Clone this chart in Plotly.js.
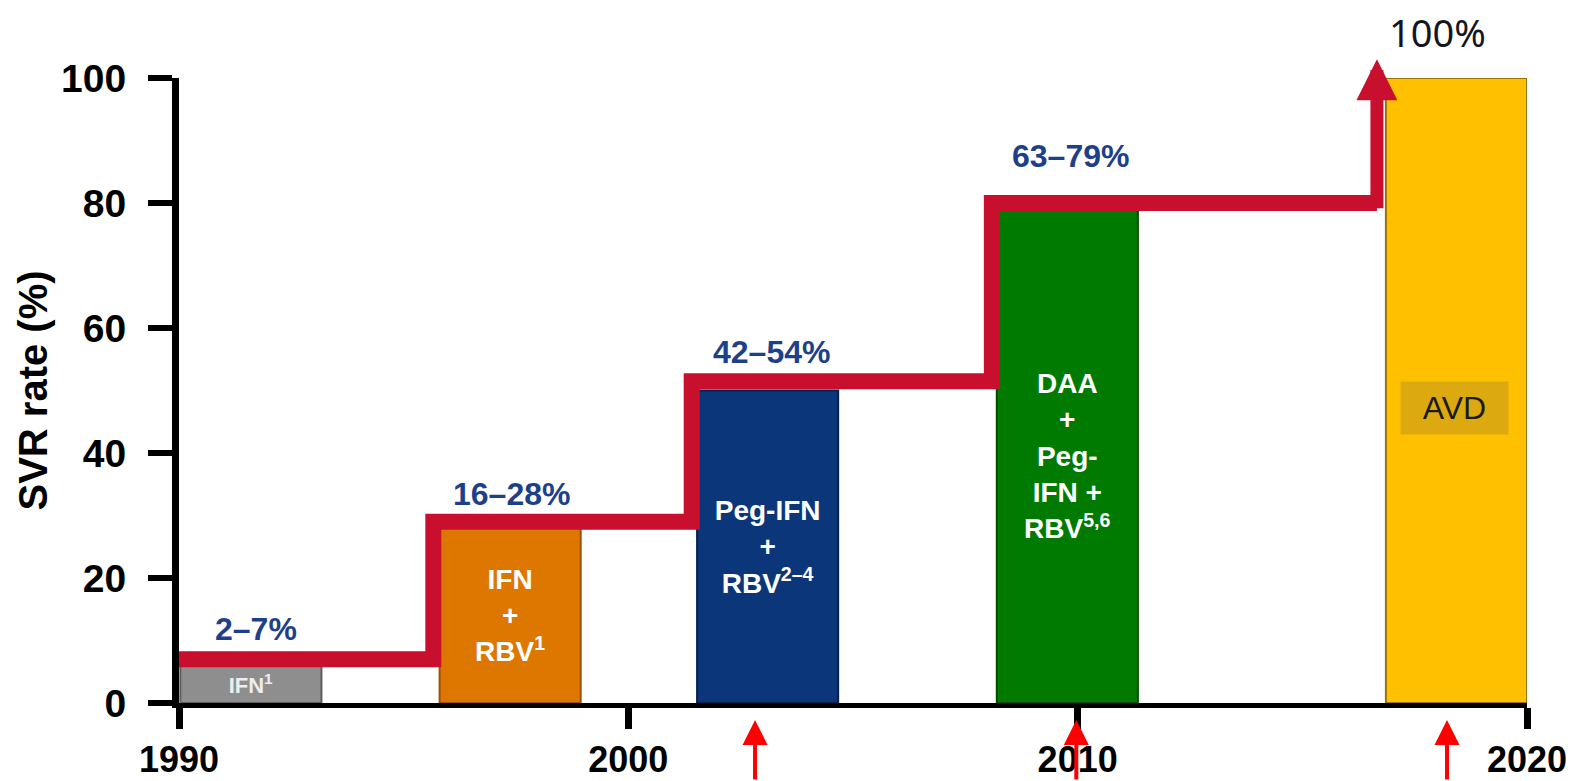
<!DOCTYPE html>
<html><head><meta charset="utf-8">
<script src="https://cdn.plot.ly/plotly-3.0.1.min.js"></script>
<style>html,body{margin:0;padding:0;background:#fff;}#chart{width:1578px;height:781px;}</style>
</head><body><div id="chart"></div>
<script>
// ---- data ----
const therapyLabels = ['IFN<sup>1</sup>', 'IFN<br>+<br>RBV<sup>1</sup>', 'Peg-IFN<br>+<br>RBV<sup>2–4</sup>', 'DAA<br>+<br>Peg-<br>IFN +<br>RBV<sup>5,6</sup>', ''];
const barYears = [1991.6, 1997.37, 2003.1, 2009.77, 2018.43];
const barSvr = [6, 28, 50, 79, 100];
const rangeLabels = ['2–7%', '16–28%', '42–54%', '63–79%', '100%'];
const rangeLabelYears = [1991.71, 1997.41, 2003.18, 2009.85, 2018.0];
const rangeLabelSvr = [11.9, 33.4, 56.1, 87.5, 107.4];
const stepYears = [1990, 1995.66, 2001.41, 2008.09, 2016.66];
const stepSvr = [7, 29, 51.5, 80, 80];
const arrowTopSvr = 103;
const markerYears = [2002.82, 2009.97, 2018.22];
const avdLabel = 'AVD';
const avdYear = 2018.38, avdSvr = 47.2;
const xTicks = [1990, 2000, 2010, 2020];
const yTicks = [0, 20, 40, 60, 80, 100];

const Y_RANGE = [0, 100];
const toPaper = v => (v - Y_RANGE[0]) / (Y_RANGE[1] - Y_RANGE[0]);

const barColors = ['#8E8E8E', '#DE7700', '#0B3679', '#007A00', '#FFC000'];
const barEdge = ['#5E5E5E', '#9A5200', '#06214C', '#004A00', '#9A7400'];
const RED = '#C8102E';
const NAVY = '#1E3F8A';
const FONT = 'Liberation Sans, Arial, sans-serif';

const bars = {
  type: 'bar', x: barYears, y: barSvr, width: 3.14,
  marker: {color: barColors, line: {color: barEdge, width: 2}},
  text: therapyLabels, textposition: 'inside', insidetextanchor: 'middle',
  textangle: 0, constraintext: 'none',
  textfont: {family: FONT, size: [22, 28, 28, 28, 28], color: ['#EDEDED', '#fff', '#fff', '#fff', '#fff'], weight: 'bold'},
  hoverinfo: 'skip', showlegend: false
};
const steps = {
  type: 'scatter', mode: 'lines', x: stepYears, y: stepSvr,
  line: {color: RED, width: 16, shape: 'hv'}, hoverinfo: 'skip', showlegend: false
};

const annotations = [];
rangeLabels.forEach((t, i) => {
  const last = i === rangeLabels.length - 1;
  annotations.push({
    x: rangeLabelYears[i], xref: 'x',
    y: toPaper(rangeLabelSvr[i]), yref: 'paper',
    text: last ? t : '<b>' + t + '</b>', showarrow: false,
    xanchor: 'center', yanchor: 'middle',
    font: last ? {family: 'Noto Sans, sans-serif', size: 38, color: '#151520'} : {family: FONT, size: 32, color: NAVY}
  });
});
// big red arrow going to 100%
annotations.push({
  x: stepYears[stepYears.length - 1], xref: 'x', y: arrowTopSvr, yref: 'y',
  ax: stepYears[stepYears.length - 1], axref: 'x', ay: stepSvr[stepSvr.length - 1] - 1.1, ayref: 'y',
  text: '', showarrow: true, arrowhead: 2, arrowsize: 0.63, arrowwidth: 13, arrowcolor: RED
});
// small red markers below axis
markerYears.forEach(yr => {
  annotations.push({
    x: yr, xref: 'x', y: toPaper(-2.7), yref: 'paper', ax: 0, ay: 72,
    text: '', showarrow: true, arrowhead: 2, arrowsize: 1.25, arrowwidth: 4, arrowcolor: '#FF0000'
  });
});
annotations.push({
  x: avdYear, xref: 'x', y: avdSvr, yref: 'y', text: avdLabel, showarrow: false,
  bgcolor: '#DCAA10', width: 105, height: 50,
  font: {family: FONT, size: 32, color: '#1A1A1A'}
});

const layout = {
  width: 1578, height: 781,
  margin: {l: 179, r: 51, t: 78, b: 78},
  paper_bgcolor: '#fff', plot_bgcolor: '#fff',
  showlegend: false,
  xaxis: {
    range: [1990, 2020], tickvals: xTicks, ticktext: xTicks.map(String),
    showline: true, linecolor: '#000', linewidth: 5,
    ticks: 'outside', ticklen: 21, tickwidth: 7, tickcolor: '#000',
    showgrid: false, zeroline: false,
    tickfont: {family: FONT, size: 36, color: '#000', weight: 'bold'}
  },
  yaxis: {
    range: Y_RANGE, tickvals: yTicks,
    showline: true, linecolor: '#000', linewidth: 7,
    ticks: 'outside', ticklen: 24, tickwidth: 6, tickcolor: '#000',
    showgrid: false, zeroline: false, ticklabelstandoff: 14,
    tickfont: {family: FONT, size: 39, color: '#000', weight: 'bold'},
    title: {text: '<b>SVR rate (%)</b>', font: {family: FONT, size: 40, color: '#000'}, standoff: 4}
  },
  annotations: annotations
};

Plotly.newPlot('chart', [bars, steps], layout, {displayModeBar: false, staticPlot: true});
</script></body></html>
